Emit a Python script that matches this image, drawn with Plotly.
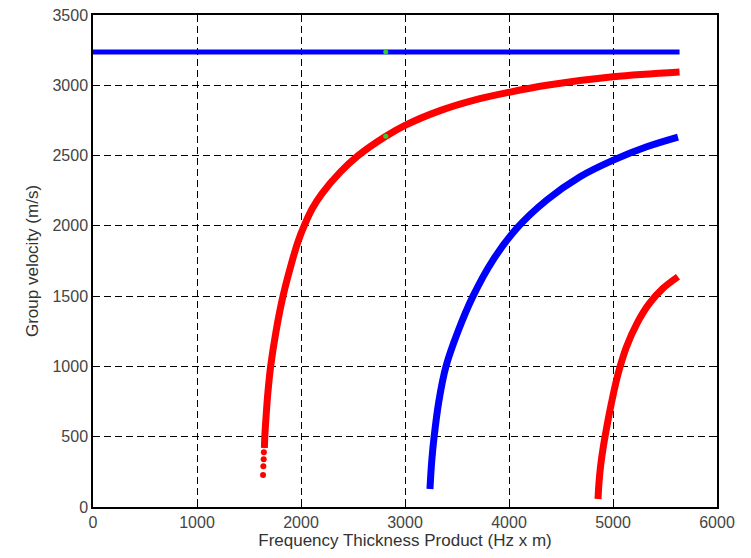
import plotly.graph_objects as go

# Mode 1 (blue, flat)
m1_x = [0, 5640]
m1_v = [3236, 3236]

# Mode 2 (red)
m2_x = [1648, 1652, 1662, 1680, 1708, 1760, 1827, 1915, 1970, 2030, 2110, 2200, 2375, 2550, 2808,
        3000, 3337, 3657, 4000, 4362, 5000, 5640]
m2_v = [420, 500, 620, 800, 1000, 1250, 1500, 1750, 1885, 2000, 2125, 2228, 2380, 2500, 2634,
        2715, 2820, 2893, 2950, 3000, 3060, 3094]
m2_dot_x = [1635, 1638, 1641, 1643, 1645]
m2_dot_v = [228, 290, 340, 390, 440]

# Mode 3 (blue)
m3_x = [3240, 3248, 3258, 3280, 3325, 3394, 3510, 3654, 3849, 4074, 4362, 4683, 5003, 5324, 5625]
m3_v = [128, 230, 334, 500, 750, 1000, 1250, 1500, 1760, 1982, 2183, 2350, 2468, 2563, 2632]

# Mode 4 (red)
m4_x = [4856, 4866, 4882, 4905, 4933, 4985, 5050, 5130, 5230, 5350, 5480, 5625]
m4_v = [57, 180, 300, 420, 540, 740, 950, 1140, 1305, 1448, 1555, 1638]

# Highlight points (green)
g_x = [2815, 2815]
g_v = [3236, 2638]

BLUE = "#0000ff"
RED = "#ff0000"
FONT = "Liberation Sans, Arial, sans-serif"

fig = go.Figure()
fig.add_trace(go.Scatter(x=m1_x, y=m1_v, mode="lines", line=dict(color=BLUE, width=5)))
fig.add_trace(go.Scatter(x=m2_x, y=m2_v, mode="lines",
                         line=dict(color=RED, width=7, shape="spline", smoothing=1.0)))
fig.add_trace(go.Scatter(x=m2_dot_x, y=m2_dot_v, mode="markers", marker=dict(color=RED, size=6)))
fig.add_trace(go.Scatter(x=m3_x, y=m3_v, mode="lines",
                         line=dict(color=BLUE, width=7, shape="spline", smoothing=1.0)))
fig.add_trace(go.Scatter(x=m4_x, y=m4_v, mode="lines",
                         line=dict(color=RED, width=7, shape="spline", smoothing=1.0)))
fig.add_trace(go.Scatter(x=g_x, y=g_v, mode="markers", marker=dict(color="#33cc33", size=5)))

axis_common = dict(
    showline=True, linecolor="black", linewidth=1.5, mirror="ticks",
    ticks="inside", ticklen=5, tickcolor="black",
    showgrid=True, gridcolor="black", gridwidth=1.3, griddash="7px,4px",
    zeroline=False,
    tickfont=dict(family=FONT, size=16, color="#444444"),
    title_font=dict(family=FONT, size=17, color="#333333"),
)

fig.update_xaxes(range=[0, 6000], dtick=1000, title_text="Frequency Thickness Product (Hz x m)",
                 title_standoff=4, **axis_common)
fig.update_yaxes(range=[0, 3500], dtick=500, title_text="Group velocity (m/s)",
                 title_standoff=10, **axis_common)

fig.update_layout(
    width=751, height=558,
    margin=dict(l=93, r=34, t=15, b=51, autoexpand=False),
    plot_bgcolor="white", paper_bgcolor="white",
    showlegend=False,
)

fig.write_html("out.html")
